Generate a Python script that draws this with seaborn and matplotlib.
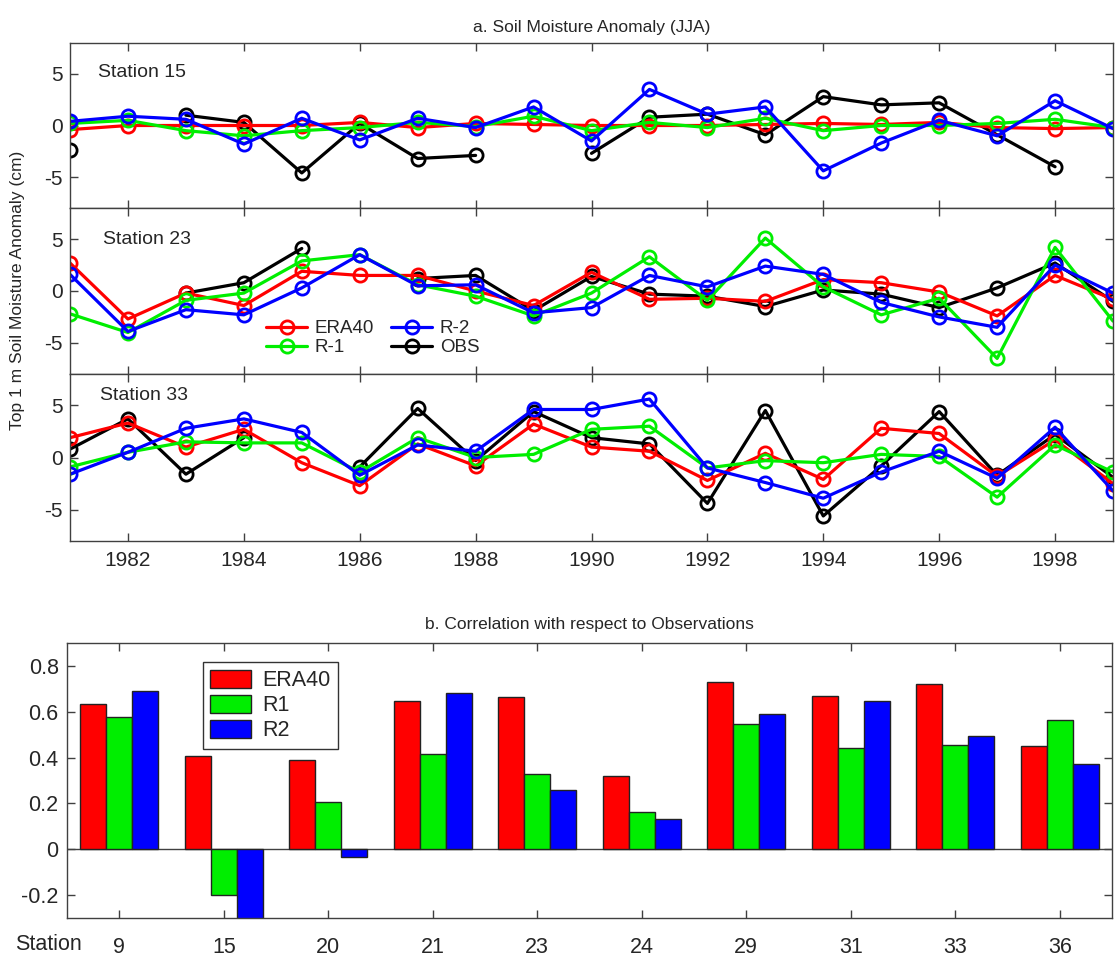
import numpy as np
import pandas as pd
import matplotlib
matplotlib.use("Agg")
import matplotlib.pyplot as plt
import seaborn as sns
from matplotlib.lines import Line2D
from matplotlib.patches import Patch

nan = np.nan
years = list(range(1981, 2000))

# Station 15
s15_era40 = [-0.4, 0.0, 0.0, 0.0, 0.0, 0.3, -0.2, 0.2, 0.1, 0.0, 0.0, 0.0, 0.1, 0.2, 0.1, 0.3, -0.2, -0.3, -0.2]
s15_r1 = [0.2, 0.5, -0.5, -1.0, -0.5, -0.2, 0.3, -0.1, 0.9, -0.5, 0.3, -0.2, 0.7, -0.5, 0.0, 0.0, 0.2, 0.6, -0.2]
s15_r2 = [0.4, 0.9, 0.6, -1.8, 0.7, -1.4, 0.7, -0.2, 1.8, -1.5, 3.5, 1.1, 1.8, -4.4, -1.7, 0.5, -1.0, 2.4, -0.3]
s15_obs = [-2.4, nan, 1.0, 0.3, -4.6, 0.2, -3.2, -2.9, nan, -2.7, 0.8, 1.1, -0.9, 2.8, 2.0, 2.2, -0.9, -4.0, nan]

# Station 23
s23_era40 = [2.7, -2.7, -0.2, -1.4, 1.9, 1.5, 1.5, 0.0, -1.4, 1.8, -0.8, -0.7, -1.0, 1.1, 0.8, -0.1, -2.4, 1.5, -0.8]
s23_r1 = [-2.2, -4.0, -0.9, -0.2, 2.9, 3.5, 0.6, -0.5, -2.4, -0.2, 3.3, -0.9, 5.1, 0.4, -2.3, -0.7, -6.5, 4.2, -2.9]
s23_r2 = [1.6, -3.9, -1.8, -2.3, 0.3, 3.5, 0.5, 0.6, -2.1, -1.6, 1.5, 0.4, 2.4, 1.6, -1.1, -2.5, -3.5, 2.5, -0.2]
s23_obs = [nan, nan, -0.2, 0.8, 4.1, nan, 1.2, 1.5, -1.9, 1.4, -0.3, -0.5, -1.5, 0.1, -0.3, -1.6, 0.3, 2.7, -1.0]

# Station 33
s33_era40 = [1.9, 3.3, 1.0, 2.7, -0.5, -2.7, 1.3, -0.8, 3.2, 1.0, 0.6, -2.2, 0.4, -2.1, 2.8, 2.3, -1.8, 1.7, -2.5]
s33_r1 = [-0.9, 0.5, 1.5, 1.4, 1.4, -1.4, 1.9, 0.0, 0.3, 2.7, 3.0, -1.0, -0.3, -0.5, 0.3, 0.1, -3.8, 1.2, -1.4]
s33_r2 = [-1.6, 0.5, 2.8, 3.7, 2.4, -1.7, 1.2, 0.6, 4.6, 4.6, 5.6, -1.0, -2.4, -3.9, -1.4, 0.6, -2.0, 2.9, -3.2]
s33_obs = [0.8, 3.7, -1.6, 1.9, nan, -0.9, 4.7, -0.3, 4.4, 1.9, 1.3, -4.4, 4.5, -5.6, -0.8, 4.4, -1.7, 2.2, -1.9]

# Correlations
stations = ["9", "15", "20", "21", "23", "24", "29", "31", "33", "36"]
corr_era40 = [0.635, 0.405, 0.39, 0.645, 0.665, 0.32, 0.73, 0.67, 0.72, 0.45]
corr_r1 = [0.575, -0.20, 0.205, 0.415, 0.327, 0.162, 0.548, 0.443, 0.453, 0.565]
corr_r2 = [0.69, -0.33, -0.033, 0.68, 0.258, 0.133, 0.59, 0.648, 0.495, 0.37]

RED, GREEN, BLUE, BLACK = "#ff0000", "#00ee00", "#0000ff", "#000000"
SPINE = "#404040"

sns.set_style("ticks")
plt.rcParams["font.family"] = ["Liberation Sans", "DejaVu Sans"]

fig = plt.figure(figsize=(11.16, 9.61), dpi=100)
W, H = 1116.0, 961.0

def ax_px(left, top, right, bottom):
    return fig.add_axes([left / W, 1 - bottom / H, (right - left) / W, (bottom - top) / H])

def seg_ids(vals):
    out, seg, on = [], 0, False
    for v in vals:
        if np.isnan(v):
            out.append(-1)
            on = False
        else:
            if not on:
                seg += 1
                on = True
            out.append(seg)
    return out

def draw_series(ax, vals, color):
    df = pd.DataFrame({"year": years, "value": vals, "seg": seg_ids(vals)}).dropna()
    sns.lineplot(data=df, x="year", y="value", units="seg", estimator=None,
                 color=color, marker="o", mfc="none", mec=color, mew=2.0,
                 ms=9.5, lw=2.3, ax=ax, legend=False, sort=True)

panels = [
    ("Station 15", s15_era40, s15_r1, s15_r2, s15_obs, (43, 208), (0.027, 0.82)),
    ("Station 23", s23_era40, s23_r1, s23_r2, s23_obs, (208, 374), (0.032, 0.81)),
    ("Station 33", s33_era40, s33_r1, s33_r2, s33_obs, (374, 541), (0.029, 0.87)),
]

line_axes = []
for i, (name, era, r1, r2, obs, (top, bot), (tx, ty)) in enumerate(panels):
    ax = ax_px(70, top, 1113, bot)
    line_axes.append(ax)
    draw_series(ax, obs, BLACK)
    draw_series(ax, era, RED)
    draw_series(ax, r1, GREEN)
    draw_series(ax, r2, BLUE)
    ax.set_xlim(1981, 1999)
    ax.set_ylim(-8, 8)
    ax.set_yticks([-5, 0, 5])
    ax.set_yticklabels(["-5", "0", "5"])
    ax.set_xticks(list(range(1982, 1999, 2)))
    ax.set_xlabel("")
    ax.set_ylabel("")
    ax.tick_params(direction="in", length=6, width=1, color=SPINE, top=True, right=True,
                   labelsize=15, pad=5)
    ax.tick_params(axis="x", pad=7)
    if i < 2:
        ax.set_xticklabels([])
    for sp in ax.spines.values():
        sp.set_color(SPINE)
        sp.set_linewidth(1)
    ax.text(tx, ty, name, transform=ax.transAxes, fontsize=14, ha="left", va="center")

line_axes[0].set_title("a. Soil Moisture Anomaly (JJA)", fontsize=12.5, pad=8)

handles = [
    Line2D([], [], color=RED, marker="o", mfc="none", mec=RED, mew=2, ms=9.5, lw=2.3),
    Line2D([], [], color=GREEN, marker="o", mfc="none", mec=GREEN, mew=2, ms=9.5, lw=2.3),
    Line2D([], [], color=BLUE, marker="o", mfc="none", mec=BLUE, mew=2, ms=9.5, lw=2.3),
    Line2D([], [], color=BLACK, marker="o", mfc="none", mec=BLACK, mew=2, ms=9.5, lw=2.3),
]
line_axes[1].legend(handles, ["ERA40", "R-1", "R-2", "OBS"], ncol=2, frameon=False,
                    loc="center left", bbox_to_anchor=(0.188, 0.215), fontsize=13.5,
                    handlelength=2.2, handletextpad=0.4, columnspacing=0.9,
                    labelspacing=0.1, borderpad=0, borderaxespad=0)

fig.text(18 / W, 1 - 290 / H, "Top 1 m Soil Moisture Anomaly (cm)", rotation=90,
         ha="center", va="center", fontsize=12.5)

# Bar chart
bx = ax_px(67, 643, 1112, 918)
models = ["ERA40", "R1", "R2"]
bar_df = pd.DataFrame({
    "station": stations * 3,
    "model": ["ERA40"] * len(stations) + ["R1"] * len(stations) + ["R2"] * len(stations),
    "corr": corr_era40 + corr_r1 + corr_r2,
})
bx.axhline(0, color=SPINE, lw=1, zorder=0.5)
sns.barplot(data=bar_df, x="station", y="corr", hue="model", order=stations, hue_order=models,
            palette=[RED, GREEN, BLUE], width=0.75, edgecolor="#222222", linewidth=1,
            saturation=1, ax=bx, legend=False, zorder=2)
bx.set_xlim(-0.5, 9.5)
bx.set_ylim(-0.3, 0.9)
bx.set_yticks([-0.2, 0, 0.2, 0.4, 0.6, 0.8])
bx.set_yticklabels(["-0.2", "0", "0.2", "0.4", "0.6", "0.8"])
bx.set_xlabel("")
bx.set_ylabel("")
bx.tick_params(direction="in", length=6, width=1, color=SPINE, top=True, right=True,
               labelsize=15.5, pad=6)
bx.tick_params(axis="x", pad=14)
for sp in bx.spines.values():
    sp.set_color(SPINE)
    sp.set_linewidth(1)
bx.set_title("b. Correlation with respect to Observations", fontsize=12.5, pad=10)
fig.text(48 / W, 1 - 945 / H, "Station", ha="center", va="center", fontsize=15.5)

bh = [Patch(facecolor=c, edgecolor="#222222", lw=1) for c in [RED, GREEN, BLUE]]
leg = bx.legend(bh, models, loc="upper left", bbox_to_anchor=(0.13, 0.93), fontsize=15.5,
                frameon=True, fancybox=False, edgecolor="#333333", framealpha=1,
                handlelength=1.9, handleheight=0.95, handletextpad=0.5, labelspacing=0.15,
                borderpad=0.35, borderaxespad=0)
leg.get_frame().set_linewidth(1)

fig.savefig("out.png", dpi=100)
